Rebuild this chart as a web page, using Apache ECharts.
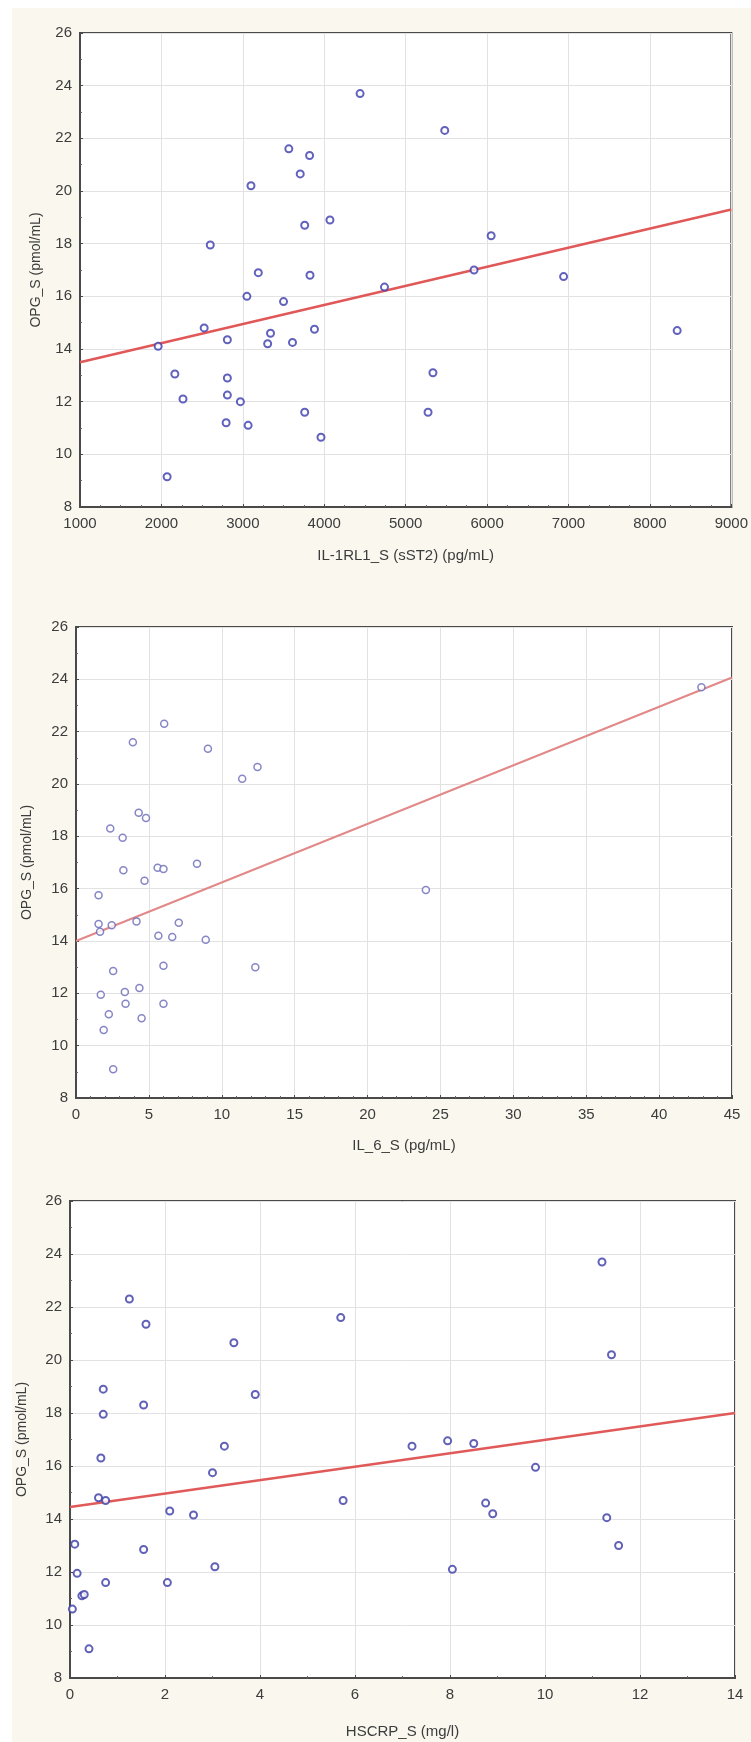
<!DOCTYPE html>
<html>
<head>
<meta charset="utf-8">
<script src="https://cdn.jsdelivr.net/npm/echarts@6/dist/echarts.min.js"></script>
<style>
    html, body { margin: 0; padding: 0; background: #ffffff; }
    .wrap { position: relative; width: 751px; height: 1742px; }
    .panel { position: absolute; left: 12px; top: 8px; right: 0; bottom: 0; background: #f9f7ee; }
    #main { position: absolute; left: 0; top: 0; width: 751px; height: 1742px; }
</style>
</head>
<body>
<div class="wrap">
    <div class="panel"></div>
    <div id="main"></div>
</div>
<script>
// OPG_S vs IL-1RL1_S (sST2)
const sst2X = [4440, 5480, 3565, 3820, 3705, 3100, 4070, 3760, 2600, 6050, 3190, 3825, 5840, 6940, 4740,
    3050, 3500, 2525, 2810, 3340, 3305, 3610, 3880, 1960, 8335, 2165, 2810, 5335, 2265, 2810, 2970,
    2795, 3065, 3760, 5275, 3960, 2070];
const sst2Y = [23.7, 22.3, 21.6, 21.35, 20.65, 20.2, 18.9, 18.7, 17.95, 18.3, 16.9, 16.8, 17.0, 16.75, 16.35,
    16.0, 15.8, 14.8, 14.35, 14.6, 14.2, 14.25, 14.75, 14.1, 14.7, 13.05, 12.9, 13.1, 12.1, 12.25, 12.0,
    11.2, 11.1, 11.6, 11.6, 10.65, 9.15];
const sst2FitX = [1000, 9000];
const sst2FitY = [13.5, 19.3];

// OPG_S vs IL_6_S
const il6X = [42.9, 6.05, 3.9, 9.05, 11.4, 12.45, 4.3, 4.8, 2.35, 3.2, 8.3, 5.6, 6.0, 3.25, 4.7,
    1.55, 24.0, 1.55, 1.65, 2.45, 4.15, 7.05, 5.65, 6.6, 8.9, 2.55, 6.0, 12.3, 1.7, 3.35, 4.35,
    3.4, 6.0, 2.25, 4.5, 1.9, 2.55];
const il6Y = [23.7, 22.3, 21.6, 21.35, 20.2, 20.65, 18.9, 18.7, 18.3, 17.95, 16.95, 16.8, 16.75, 16.7, 16.3,
    15.75, 15.95, 14.65, 14.35, 14.6, 14.75, 14.7, 14.2, 14.15, 14.05, 12.85, 13.05, 13.0, 11.95, 12.05, 12.2,
    11.6, 11.6, 11.2, 11.05, 10.6, 9.1];
const il6FitX = [0, 45];
const il6FitY = [14.0, 24.07];

// OPG_S vs HSCRP_S
const crpX = [11.2, 1.25, 5.7, 1.6, 3.45, 11.4, 0.7, 3.9, 1.55, 0.7, 3.25, 7.2, 7.95, 8.5, 0.65,
    9.8, 3.0, 0.6, 0.75, 5.75, 8.75, 8.9, 2.1, 2.6, 11.3, 0.1, 1.55, 11.55, 0.15, 3.05, 8.05,
    0.75, 2.05, 0.25, 0.3, 0.05, 0.4];
const crpY = [23.7, 22.3, 21.6, 21.35, 20.65, 20.2, 18.9, 18.7, 18.3, 17.95, 16.75, 16.75, 16.95, 16.85, 16.3,
    15.95, 15.75, 14.8, 14.7, 14.7, 14.6, 14.2, 14.3, 14.15, 14.05, 13.05, 12.85, 13.0, 11.95, 12.2, 12.1,
    11.6, 11.6, 11.1, 11.15, 10.6, 9.1];
const crpFitX = [0, 14];
const crpFitY = [14.45, 18.0];

const yTicks = [8, 10, 12, 14, 16, 18, 20, 22, 24, 26];
const yName = 'OPG_S (pmol/mL)';
const xNames = ['IL-1RL1_S (sST2) (pg/mL)', 'IL_6_S (pg/mL)', 'HSCRP_S (mg/l)'];

const FONT = '"Liberation Sans", Arial, sans-serif';
const TEXT = '#3c3c3c';

function zip(xs, ys) {
    return xs.map((x, i) => [x, ys[i]]);
}

// 三个图的位置
const grids = [
    {left: 80, top: 33, width: 653, height: 474},
    {left: 76, top: 627, width: 656, height: 471},
    {left: 70, top: 1201, width: 665, height: 477}
];
const xRanges = [
    {min: 1000, max: 9000, interval: 1000, minor: 4, nameGap: 41},
    {min: 0, max: 45, interval: 5, minor: 5, nameGap: 40},
    {min: 0, max: 14, interval: 2, minor: 2, nameGap: 46}
];
const yNameGaps = [37, 42, 41];

function xAxisOf(i) {
    const r = xRanges[i];
    return {
        type: 'value',
        gridIndex: i,
        min: r.min,
        max: r.max,
        interval: r.interval,
        name: xNames[i],
        nameLocation: 'middle',
        nameGap: r.nameGap,
        nameTextStyle: {fontFamily: FONT, fontSize: 15, color: TEXT},
        axisLine: {show: true, onZero: false, lineStyle: {color: '#4a4a4a', width: 2}},
        axisTick: {show: true, inside: true, length: 3, lineStyle: {color: '#4a4a4a'}},
        minorTick: {show: true, splitNumber: r.minor, length: 2, lineStyle: {color: '#666'}},
        axisLabel: {
            margin: 9, fontFamily: FONT, fontSize: 15, color: TEXT,
            showMinLabel: true, showMaxLabel: true,
            formatter: v => String(v)
        },
        splitLine: {show: true, lineStyle: {color: '#e2e2e2', width: 1}}
    };
}

function yAxisOf(i) {
    return {
        type: 'value',
        gridIndex: i,
        min: yTicks[0],
        max: yTicks[yTicks.length - 1],
        interval: 2,
        name: yName,
        nameLocation: 'middle',
        nameGap: yNameGaps[i],
        nameTextStyle: {fontFamily: FONT, fontSize: 14, color: TEXT},
        axisLine: {show: true, onZero: false, lineStyle: {color: '#4a4a4a', width: 2}},
        axisTick: {show: true, inside: true, length: 3, lineStyle: {color: '#4a4a4a'}},
        minorTick: {show: true, splitNumber: 2, length: 2, lineStyle: {color: '#666'}},
        axisLabel: {margin: 8, fontFamily: FONT, fontSize: 15, color: TEXT, formatter: v => String(v)},
        splitLine: {show: true, lineStyle: {color: '#e2e2e2', width: 1}}
    };
}

const pointColors = ['#3a3aae', '#6868b8', '#3a3aa6'];
const lineColors = ['#e05858', '#e28888', '#e05a5a'];
const lineWidths = [2.5, 2, 2.5];
const points = [zip(sst2X, sst2Y), zip(il6X, il6Y), zip(crpX, crpY)];
const fits = [zip(sst2FitX, sst2FitY), zip(il6FitX, il6FitY), zip(crpFitX, crpFitY)];

const series = [];
for (let i = 0; i < 3; i++) {
    series.push({
        type: 'line',
        xAxisIndex: i,
        yAxisIndex: i,
        data: fits[i],
        showSymbol: false,
        silent: true,
        lineStyle: {color: lineColors[i], width: lineWidths[i]},
        z: 2
    });
    series.push({
        type: 'scatter',
        xAxisIndex: i,
        yAxisIndex: i,
        data: points[i],
        symbol: 'circle',
        symbolSize: 7,
        itemStyle: {color: '#ffffff', borderColor: pointColors[i], borderWidth: i === 1 ? 1.5 : 2},
        z: 3
    });
}

const myChart = echarts.init(document.getElementById('main'), null, {renderer: 'canvas'});
myChart.setOption({
    animation: false,
    backgroundColor: 'transparent',
    grid: grids.map(g => Object.assign({
        show: true,
        backgroundColor: '#ffffff',
        borderColor: '#4a4a4a',
        borderWidth: 2
    }, g)),
    xAxis: [0, 1, 2].map(xAxisOf),
    yAxis: [0, 1, 2].map(yAxisOf),
    series: series
});
</script>
</body>
</html>
